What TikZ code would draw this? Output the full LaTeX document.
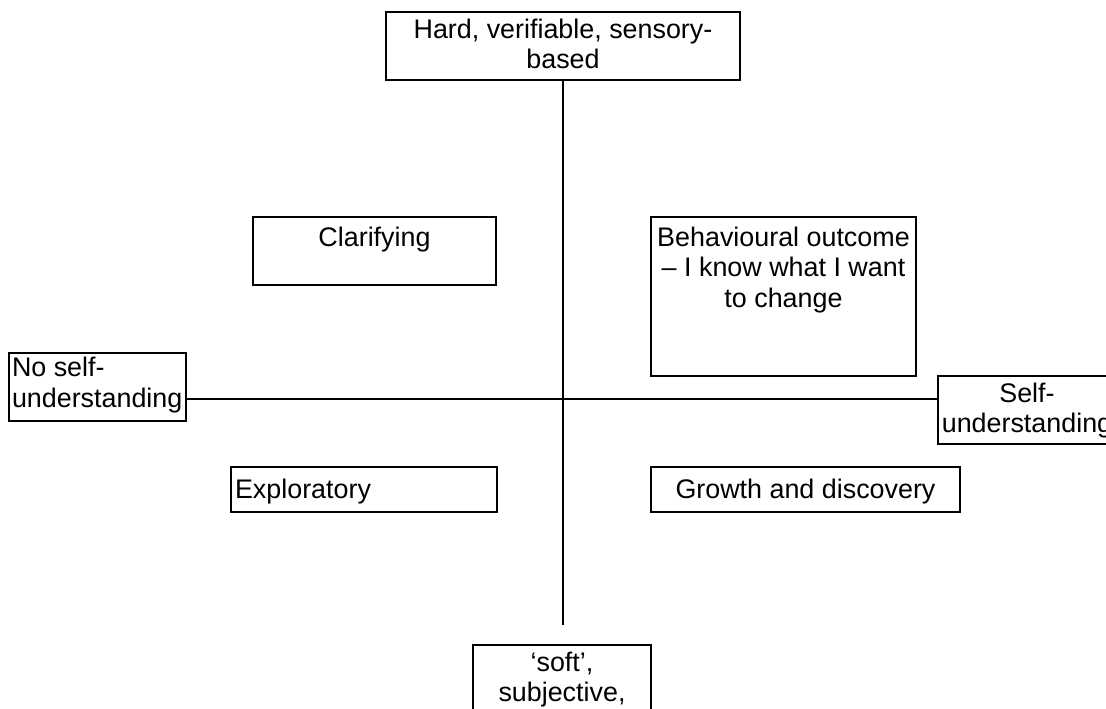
\documentclass[tikz,border=0pt]{standalone}
\usepackage{fontspec}
\setmainfont{Liberation Sans}
\tikzset{
    axis line/.style={line width=1.1pt},
    quad box/.style={draw,line width=1.1pt,inner sep=0pt,font=\fontsize{15.3}{17.3}\selectfont},
}
% width, height, alignment, top gap, text
\newcommand{\boxtext}[5]{\parbox[t][#2][t]{#1}{#3\vspace*{#4}\strut#5}}

\begin{document}
\begin{tikzpicture}[x=0.02cm,y=-0.02cm]
        \useasboundingbox (0,0) rectangle (1106,708);

        % vertical scale
        \node[quad box] (hard) at (563,46) {\boxtext{7.08cm}{1.36cm}{\centering}{0.1cm}{Hard, verifiable, sensory-\\based}};
        \node[quad box] (soft) at (562,679) {\boxtext{3.56cm}{1.36cm}{\centering}{0.1cm}{`soft',\\subjective,}};

        % horizontal scale
        \node[quad box] (noself) at (97.5,387) {\boxtext{3.54cm}{1.36cm}{\raggedright\leftskip=1.7pt}{0.05cm}{No self-\\understanding}};
        \node[quad box] (self) at (1027,410) {\boxtext{3.56cm}{1.36cm}{\centering}{0.1cm}{Self-\\understanding}};

        % quadrants
        \node[quad box] (clar) at (374.5,251) {\boxtext{4.86cm}{1.36cm}{\centering}{0.17cm}{Clarifying}};
        \node[quad box] (behav) at (783.5,296.5) {\boxtext{5.3cm}{3.18cm}{\centering}{0.16cm}{Behavioural outcome\\-- I know what I want\\to change}};
        \node[quad box] (expl) at (364,489.5) {\boxtext{5.32cm}{0.9cm}{\raggedright\leftskip=2.3pt}{0.2cm}{Exploratory}};
        \node[quad box] (growth) at (805.5,489.5) {\boxtext{6.18cm}{0.9cm}{\centering}{0.2cm}{Growth and discovery}};

        \coordinate (centre) at (563,399);
        \coordinate (vend) at (563,625);

        \draw[axis line] (hard.south) -- (vend);
        \draw[axis line] (noself.east |- centre) -- (self.west |- centre);
    \end{tikzpicture}
\end{document}
